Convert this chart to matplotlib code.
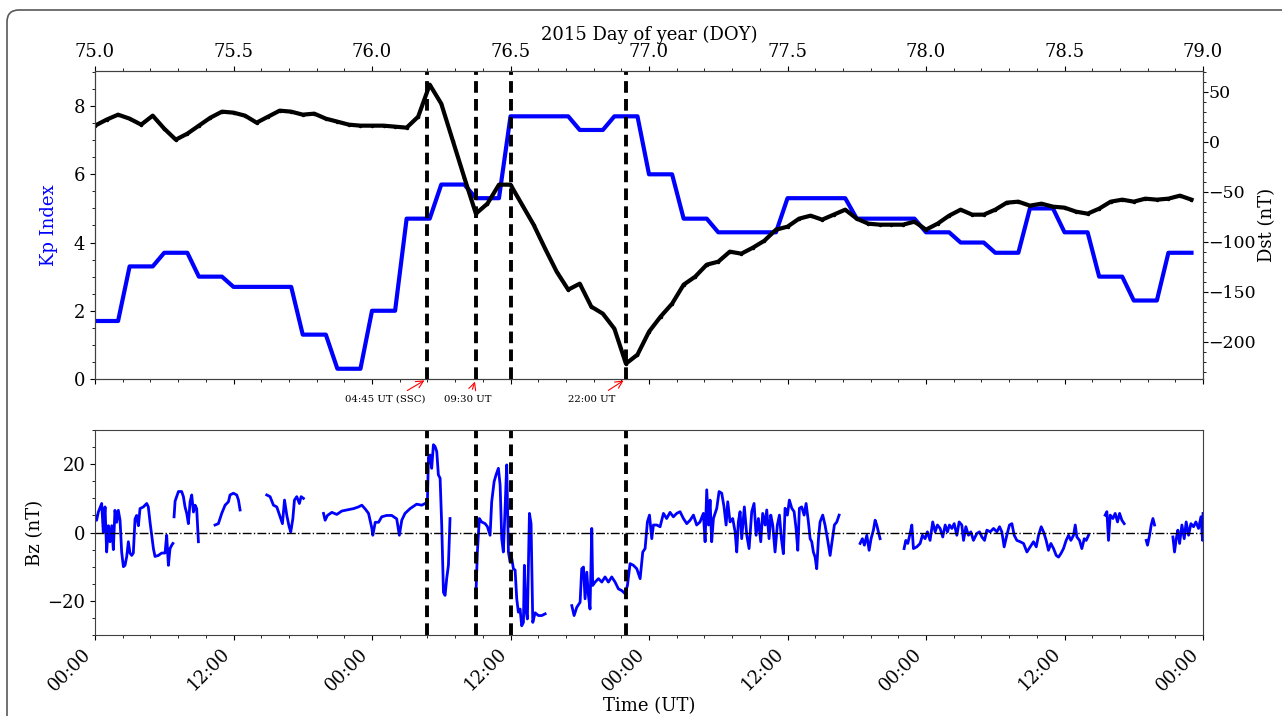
import numpy as np
import matplotlib
matplotlib.use('Agg')
import matplotlib.pyplot as plt
import matplotlib.patches as mpatches
from matplotlib.ticker import MultipleLocator, FuncFormatter
from matplotlib.transforms import IdentityTransform

plt.rcParams['font.family'] = 'DejaVu Serif'
plt.rcParams['font.size'] = 13

# Kp, 3-hourly values, DOY 75 00 UT .. DOY 78 21 UT
kp_3h = [1.7, 3.3, 3.7, 3.0, 2.7, 2.7, 1.3, 0.3,
         2.0, 4.7, 5.7, 5.3, 7.7, 7.7, 7.3, 7.7,
         6.0, 4.7, 4.3, 4.3, 5.3, 5.3, 4.7, 4.7,
         4.3, 4.0, 3.7, 5.0, 4.3, 3.0, 2.3, 3.7]

# Dst, hourly (nT)
dst = [16, 22, 27, 23, 17, 26, 13, 2, 8, 16, 24, 30, 29, 26, 19, 25, 31, 30, 27, 28, 23, 20, 17, 16,
       16, 16, 15, 14, 25, 57, 38, 1, -36, -72, -62, -43, -43, -63, -83, -107, -130, -148, -142, -165,
       -172, -187, -222, -213,
       -190, -175, -162, -143, -135, -123, -120, -110, -112, -106, -99, -88, -85, -77, -74, -78, -73,
       -68, -77, -82, -83, -83, -83, -80,
       -88, -82, -74, -68, -73, -73, -68, -61, -60, -64, -62, -65, -66, -70, -72, -67, -60, -58, -60,
       -57, -58, -57, -54, -58]

# event lines (hours after DOY 75 00:00 UT) and their labels
event_hours = [28.75, 33.0, 36.0, 46.0]
event_labels = ['04:45 UT (SSC)', '09:30 UT', None, '22:00 UT']

# Bz segments: (hours after DOY 75 00:00, Bz nT)
bz_seg1 = [(0.00, 5), (0.14, 3.6), (0.29, 6), (0.58, 8.5), (0.72, 0), (0.87, 7.5), (1.01, -5.7),
           (1.16, 2), (1.30, -2.7), (1.45, 2), (1.59, -5), (1.73, 6.5), (1.88, 3), (2.02, 6.5),
           (2.17, 3.6), (2.31, -5.7), (2.46, -10), (2.60, -9.6), (2.75, -7), (2.89, -2.7), (3.03, -6),
           (3.18, -6.7), (3.32, -6), (3.47, 4), (3.61, 5), (3.76, 2), (3.90, 7), (4.19, 7.5), (4.48, 8.5),
           (4.62, 7.5), (4.77, 3), (4.91, -0.8), (5.06, -4.7), (5.20, -7), (5.49, -6.7), (5.78, -6),
           (6.07, -6), (6.21, -0.8), (6.36, -9.6), (6.50, -4.7), (6.65, -3.7), (6.75, -3.2)]
bz_seg2 = [(6.85, 4.6), (6.94, 9.2), (7.23, 12), (7.51, 12), (7.66, 10.5), (7.80, 7.5), (7.95, 5.6),
           (8.09, 2.6), (8.24, 9), (8.38, 11), (8.53, 6), (8.67, 8), (8.81, 7), (8.96, -2.7)]
bz_seg3 = [(10.40, 2.2), (10.69, 2.6), (10.98, 5.6), (11.27, 8), (11.56, 9), (11.70, 11), (11.99, 11.5),
           (12.28, 11), (12.43, 9.5), (12.57, 6.6)]
bz_seg4 = [(14.88, 11), (15.17, 10.5), (15.46, 8), (15.75, 7.5), (16.04, 4.6), (16.24, 2.6), (16.42, 9.5),
           (16.62, 5), (16.82, 1.7), (16.96, 0.2), (17.14, 4), (17.28, 9.5), (17.48, 10.5), (17.71, 8.5),
           (17.86, 10.5), (18.06, 10)]
bz_seg5 = [(19.80, 5.6), (19.94, 3.6), (20.14, 5), (20.52, 5.9), (20.95, 5.3), (21.39, 6.3), (21.82, 6.6),
           (22.40, 7), (22.83, 7.5), (23.12, 8), (23.41, 6.9), (23.70, 5.6), (23.99, 1.2), (24.07, -0.8),
           (24.28, 3), (24.57, 3), (24.84, 4.6), (25.27, 5), (25.71, 5), (26.14, 4), (26.37, -0.8),
           (26.58, 3.6), (26.86, 5.6), (27.30, 7), (27.87, 8.3), (28.31, 8), (28.60, 8.5), (28.80, 9),
           (28.89, 22), (29.03, 22.7), (29.17, 18.8), (29.32, 25.7), (29.46, 25.2), (29.61, 23.7),
           (29.75, 16.9), (29.90, 15.9), (30.04, 2.2), (30.19, -17.5), (30.33, -18.4), (30.47, -13.5),
           (30.62, -9.6), (30.76, 4.1)]
bz_seg6 = [(33.02, -16.5), (33.13, -5.7), (33.30, 4.1), (33.50, 3.1), (33.80, 2.6), (34.00, 1.7),
           (34.23, -0.8), (34.37, 9), (34.58, 14.9), (34.75, 16.9), (34.95, 18.8), (35.10, 13.9),
           (35.24, -1.8), (35.38, -5.7), (35.53, 7), (35.67, 19.8), (35.82, -5.7), (35.96, -8.6),
           (36.11, -7.6), (36.25, -10.6), (36.40, -11), (36.54, -19.4), (36.68, -23.3), (36.83, -22.4),
           (36.97, -27.3), (37.12, -26.3), (37.20, -9.6), (37.32, -22.4), (37.46, -25.3), (37.64, 5.6),
           (37.78, 2.6), (37.93, -26.3), (38.13, -23.5), (38.42, -24.3), (38.71, -24.3), (39.00, -23.8)]
bz_seg7 = [(41.31, -21.4), (41.51, -24.3), (41.74, -21.9), (42.03, -20.4), (42.17, -10.6), (42.32, -10.1),
           (42.46, -19.4), (42.61, -11.6), (42.75, -18.4), (42.89, -22.4), (43.04, 1.2), (43.12, -15.5),
           (43.33, -14.5), (43.62, -13.5), (43.91, -14.5), (44.19, -13), (44.48, -14.5), (44.77, -13),
           (45.06, -14.5), (45.35, -16.5), (45.64, -17), (45.93, -17.9), (46.13, -15.5), (46.36, -9.1),
           (46.65, -9.6), (46.94, -10.6), (47.23, -13.5), (47.46, -5.7), (47.66, -4.7), (47.86, 3.1),
           (48.04, 5.1), (48.24, -1.8), (48.38, 2.2), (48.67, 2.2), (48.96, 1.7), (49.25, 5.6),
           (49.53, 4.1), (49.82, 5.9), (50.11, 4.6), (50.40, 5.6), (50.69, 6.1), (50.98, 4.1), (51.27, 2.6),
           (51.56, 3.6), (51.85, 5.1), (52.13, 2.2), (52.42, 3.1), (52.71, 5.6), (52.86, -2.7),
           (53.00, 12.5), (53.15, 2.2), (53.29, 9.5), (53.43, -2.7), (53.58, 4.1), (53.87, 7.1),
           (54.07, 12), (54.30, 11.5), (54.50, 7.5), (54.68, 2.2), (54.82, 9), (55.02, 3.1), (55.25, 4.1),
           (55.46, 0.2), (55.60, -5.7), (55.74, 3.1), (55.89, 6.1), (56.03, -1.8), (56.26, 7.5),
           (56.47, -0.8), (56.67, -4.7), (56.90, 6.1), (57.10, 8.5), (57.28, -0.8), (57.48, 4.1),
           (57.68, -2.7), (57.85, 5.6), (58.06, 2.2), (58.20, 6.6), (58.40, -1.8), (58.55, 5.1),
           (58.72, 2.2), (58.92, -5.7), (59.12, 2.2), (59.30, 5.1), (59.47, -1.8), (59.64, -6.2),
           (59.79, 7.1), (59.99, 5.1), (60.16, 9.5), (60.37, 7.1), (60.57, 6.1), (60.74, 1.2),
           (60.89, -5.2), (61.03, 7.1), (61.23, 7.5), (61.44, 5.1), (61.61, 8.5), (61.81, 3.1),
           (61.96, -1.8), (62.10, -2.7), (62.24, -5.7), (62.39, -7.2), (62.53, -10.6), (62.68, -1.8),
           (62.82, 3.1), (63.05, 5.1), (63.25, 2.2), (63.46, -1.8), (63.69, -6.7), (63.89, -1.8),
           (64.06, 2.2), (64.27, 3.1), (64.47, 5.1)]
bz_seg8 = [(66.29, -3.2), (66.49, -1.8), (66.66, -3.7), (66.87, -0.8), (67.07, -5.2), (67.24, -1.8),
           (67.44, 0.7), (67.59, 3.6), (67.73, 2.2), (67.91, -0.3), (68.02, -1.8)]
bz_seg9 = [(70.10, -4.7), (70.25, -2.3), (70.42, -3.2), (70.62, -0.3), (70.77, 2.2), (70.91, -4.7),
           (71.20, -4.2), (71.49, -3.2), (71.69, -0.8), (71.92, -1.8), (72.12, 0.2), (72.35, -2.3),
           (72.58, 3.1), (72.79, 0.2), (72.99, 2.2), (73.22, 1.2), (73.45, -1.3), (73.66, 2.2),
           (73.86, 0.2), (74.03, 2.2), (74.24, 1.2), (74.44, 2.6), (74.67, -0.8), (74.87, 3.1),
           (75.10, 2.2), (75.25, -2.3), (75.45, 1.7), (75.68, -0.8), (75.88, 0.2), (76.11, -2.3),
           (76.40, -0.3), (76.63, 0.2), (76.84, -1.3), (77.07, -2.3), (77.27, 0.7), (77.56, 0.2),
           (77.85, 1.2), (78.14, 0.2), (78.37, 1.7), (78.57, 0.2), (78.77, -4.2), (79.00, -0.8),
           (79.23, 2.2), (79.44, 2.6), (79.64, -0.8), (79.87, -2.3), (80.16, -2.7), (80.45, -3.2),
           (80.74, -5.7), (81.03, -4.2), (81.31, -2.7), (81.55, -4.2), (81.75, -0.8), (81.98, 1.7),
           (82.18, 0.2), (82.41, -2.3), (82.61, -5.2), (82.82, -3.2), (83.05, -4.7), (83.28, -6.7),
           (83.48, -7.2), (83.68, -6.2), (83.91, -4.7), (84.14, -2.3), (84.35, -0.8), (84.55, -2.3),
           (84.78, -0.8), (84.93, 2.2), (85.07, -1.3), (85.30, -2.3), (85.50, -4.7), (85.71, -1.8),
           (85.88, -2.3), (86.08, -0.8)]
bz_seg10 = [(87.52, 5.1), (87.67, 6.1), (87.81, -2.3), (87.96, 5.1), (88.19, 4.1), (88.39, 5.6),
            (88.59, 3.1), (88.77, 5.6), (88.97, 3.6), (89.17, 2.6)]
bz_seg11 = [(91.08, -2.3), (91.19, -3.7), (91.37, -0.8), (91.51, 2.2), (91.66, 4.1), (91.80, 2.2)]
bz_seg12 = [(93.39, -1.3), (93.53, -5.7), (93.68, -1.8), (93.82, 0.7), (93.97, -3.2), (94.17, 2.2),
            (94.37, -1.8), (94.54, 3.1), (94.75, -0.8), (94.95, 2.6), (95.18, 1.7), (95.38, 3.1),
            (95.61, 1.2), (95.82, 4.6), (95.96, -2.3), (96.0, 5.6)]

# ---- prepare series on a DOY axis
doy0 = 75.0
kp = np.repeat(kp_3h, 3)
t_hourly = doy0 + np.arange(len(kp)) / 24.0
t_dst = doy0 + np.arange(len(dst)) / 24.0

bz_t, bz_v = [], []
for seg in [bz_seg1, bz_seg2, bz_seg3, bz_seg4, bz_seg5, bz_seg6, bz_seg7, bz_seg8,
            bz_seg9, bz_seg10, bz_seg11, bz_seg12]:
    for h, b in seg:
        bz_t.append(doy0 + h / 24.0)
        bz_v.append(b)
    bz_t.append(np.nan)
    bz_v.append(np.nan)

ev_doy = [doy0 + h / 24.0 for h in event_hours]

fig = plt.figure(figsize=(12.82, 7.16), dpi=100, facecolor='w')
ax_kp = fig.add_axes([0.0741, 0.4707, 0.8643, 0.4302])
ax_bz = fig.add_axes([0.0741, 0.1131, 0.8643, 0.2863])

# ---- top panel: Kp + Dst
ax_kp.plot(t_hourly, kp, color='#0000ff', lw=3)
ax_kp.set_xlim(75, 79)
ax_kp.set_ylim(0, 9.03)
ax_kp.set_ylabel('Kp Index', color='#0000ff', labelpad=11)
ax_kp.yaxis.set_major_locator(MultipleLocator(2))
ax_kp.yaxis.set_minor_locator(MultipleLocator(0.5))
ax_kp.xaxis.set_major_locator(MultipleLocator(0.5))
ax_kp.xaxis.set_minor_locator(MultipleLocator(0.1))
ax_kp.xaxis.set_major_formatter(FuncFormatter(lambda x, pos: '%.1f' % x))
ax_kp.tick_params(axis='x', which='both', top=True, bottom=True, labeltop=True, labelbottom=False)
ax_kp.xaxis.set_label_position('top')
ax_kp.set_xlabel('2015 Day of year (DOY)', labelpad=2)

ax_dst = ax_kp.twinx()
ax_dst.plot(t_dst, dst, color='k', lw=3, marker='.', ms=3)
ax_dst.set_ylim(-237.3, 70.7)
ax_dst.yaxis.set_major_locator(MultipleLocator(50))
ax_dst.yaxis.set_minor_locator(MultipleLocator(10))
ax_dst.tick_params(axis='y', which='major', pad=0.5, labelsize=12.5)
ax_dst.set_ylabel('Dst (nT)', labelpad=1)

for x in ev_doy:
    ax_dst.axvline(x, color='k', lw=2.8, ls=(0, (3, 1.6)))

# event annotations under the top panel
for x, lab in zip(ev_doy, event_labels):
    if lab is None:
        continue
    if 'SSC' in lab:
        tx, ax_start = x - 0.151, x - 0.079
    elif lab.startswith('09'):
        tx, ax_start = x - 0.028, x - 0.016
    else:
        tx, ax_start = x - 0.123, x - 0.072
    ax_kp.annotate('', xy=(x, 0), xytext=(ax_start, -0.38),
                   arrowprops=dict(arrowstyle='->', color='red', lw=0.8),
                   annotation_clip=False)
    ax_kp.text(tx, -0.6, lab, ha='center', va='center', fontsize=7.3, clip_on=False)

# ---- bottom panel: Bz
ax_bz.plot(bz_t, bz_v, color='#0000ff', lw=2)
ax_bz.axhline(0, color='k', lw=1, ls='-.')
for x in ev_doy:
    ax_bz.axvline(x, color='k', lw=2.8, ls=(0, (3, 1.6)))
ax_bz.set_xlim(75, 79)
ax_bz.set_ylim(-30, 30)
ax_bz.yaxis.set_major_locator(MultipleLocator(20))
ax_bz.yaxis.set_minor_locator(MultipleLocator(5))
ax_bz.xaxis.set_major_locator(MultipleLocator(0.5))
ax_bz.xaxis.set_minor_locator(MultipleLocator(0.1))
ax_bz.xaxis.set_major_formatter(FuncFormatter(
    lambda x, pos: '00:00' if int(round(x * 2)) % 2 == 0 else '12:00'))
plt.setp(ax_bz.get_xticklabels(), rotation=45, ha='right')
ax_bz.set_ylabel('Bz (nT)', labelpad=2)
ax_bz.set_xlabel('Time (UT)', labelpad=2)

for a in (ax_kp, ax_dst, ax_bz):
    for sp in a.spines.values():
        sp.set_color('0.25')

# rounded frame around the figure
frame = mpatches.FancyBboxPatch((7, -60), 1400, 766,
                                boxstyle='round,pad=0,rounding_size=12',
                                transform=IdentityTransform(), fill=False,
                                ec='0.35', lw=1.2)
fig.patches.append(frame)

fig.savefig('out.png', dpi=100)
